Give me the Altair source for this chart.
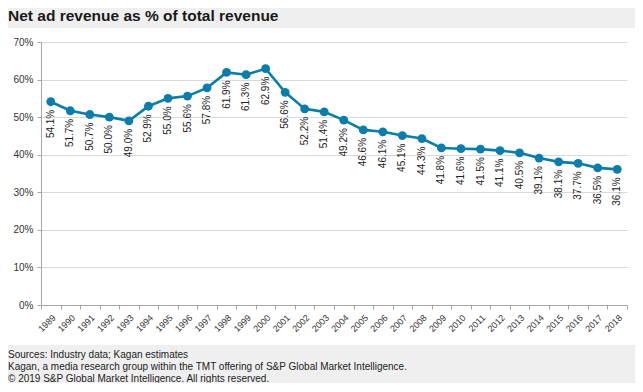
import altair as alt
import pandas as pd

years = [str(y) for y in range(1989, 2019)]
values = [54.1, 51.7, 50.7, 50.0, 49.0, 52.9, 55.0, 55.6, 57.8, 61.9,
          61.3, 62.9, 56.6, 52.2, 51.4, 49.2, 46.6, 46.1, 45.1, 44.3,
          41.8, 41.6, 41.5, 41.1, 40.5, 39.1, 38.1, 37.7, 36.5, 36.1]
y_ticks = [0, 10, 20, 30, 40, 50, 60, 70]
title_text = "Net ad revenue as % of total revenue"
footer_lines = [
    "Sources: Industry data; Kagan estimates",
    "Kagan, a media research group within the TMT offering of S&P Global Market Intelligence.",
    "\u00a9 2019 S&P Global Market Intelligence. All rights reserved.",
]

df = pd.DataFrame({"year": years, "value": values})
df["label"] = [f"{v:.1f}%" for v in values]

FONT = "Liberation Sans"
BLUE = "#0a7dab"
GRAY_BG = "#efefef"
W, H = 586, 263

one = pd.DataFrame({"a": [0]})

top_band = alt.Chart(one).mark_rect(color=GRAY_BG).encode(
    x=alt.value(-40), x2=alt.value(W + 10), y=alt.value(-40), y2=alt.value(-14)
)
bottom_band = alt.Chart(one).mark_rect(color=GRAY_BG).encode(
    x=alt.value(-40), x2=alt.value(W + 10), y=alt.value(H + 40), y2=alt.value(H + 90)
)

x_enc = alt.X("year:N", sort=years, title=None,
              scale=alt.Scale(paddingInner=0, paddingOuter=0),
              axis=alt.Axis(labelAngle=-45, labelFontSize=9, labelColor="#333333",
                            labelFont=FONT, domainColor="#a6a6a6", tickColor="#a6a6a6",
                            tickSize=4, tickBand="extent", labelPadding=4, grid=False))
y_enc = alt.Y("value:Q", title=None,
              scale=alt.Scale(domain=[0, 70], nice=False),
              axis=alt.Axis(values=y_ticks, labelExpr="datum.value + '%'", labelFontSize=10,
                            labelColor="#333333", labelFont=FONT, domainColor="#a6a6a6",
                            tickColor="#a6a6a6", tickSize=4, labelPadding=4,
                            gridColor="#d9d9d9", gridWidth=1))

base = alt.Chart(df)
line = base.mark_line(color=BLUE, strokeWidth=2.6).encode(x=x_enc, y=y_enc)
pts = base.mark_circle(color=BLUE, size=78, opacity=1).encode(x=x_enc, y=y_enc)
labels = base.mark_text(angle=270, align="right", baseline="middle", yOffset=8,
                        fontSize=10, font=FONT, color="#222222").encode(
    x=x_enc, y=y_enc, text="label:N")

title = alt.Chart(one).mark_text(text=title_text, align="left", baseline="alphabetic",
                                 fontSize=15.5, fontWeight="bold", font=FONT,
                                 color="#1a1a1a").encode(
    x=alt.value(-33), y=alt.value(-21))

footer = alt.Chart(one).mark_text(text=footer_lines, align="left", baseline="middle",
                                  fontSize=10, font=FONT, color="#222222",
                                  lineHeight=12).encode(
    x=alt.value(-33), y=alt.value(313))

chart = alt.layer(top_band, bottom_band, line, pts, labels, title, footer).properties(
    width=W, height=H,
    background="white",
    padding={"left": 33, "top": 34, "right": 8, "bottom": 78},
    autosize=alt.AutoSizeParams(type="none"),
).configure_view(stroke=None)

chart.save("out.html", embed_options={"renderer": "svg", "actions": False})
